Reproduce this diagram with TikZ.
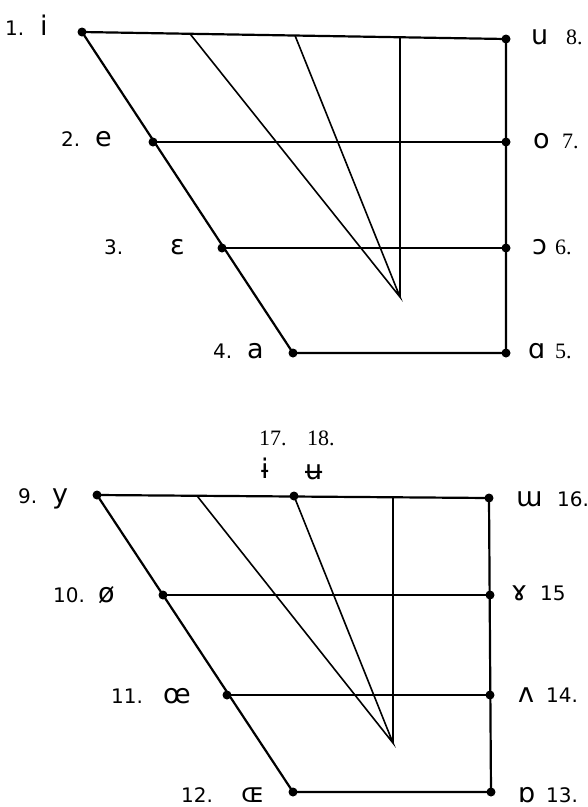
\documentclass[tikz,border=0pt]{standalone}
\usepackage{fontspec}
\setmainfont{DejaVu Sans}
\newfontfamily\ipafont{DejaVu Sans}
\newfontfamily\serfont{Liberation Serif}
\begin{document}
\begin{tikzpicture}[x=1pt,y=-1pt,
  dot/.style={circle,fill=black,inner sep=0pt,minimum size=9pt},
  outer/.style={line width=2.2pt},
  inner/.style={line width=1.6pt},
  num/.style={anchor=base west,inner sep=0pt,font=\fontsize{20}{20}\selectfont},
  snum/.style={anchor=base west,inner sep=0pt,font=\serfont\fontsize{22}{22}\selectfont},
  sym/.style={anchor=base west,inner sep=0pt,font=\ipafont\fontsize{27}{27}\selectfont}]
\useasboundingbox (0,0) rectangle (588,807);
% ---------- top chart ----------
\node[dot] (i) at (82,32) {};
\node[dot] (u) at (506,39) {};
\node[dot] (e) at (153,142) {};
\node[dot] (o) at (506,142) {};
\node[dot] (eps) at (222,248) {};
\node[dot] (oo) at (506,248) {};
\node[dot] (a) at (293,353) {};
\node[dot] (aa) at (506,353) {};
\coordinate (ta) at (190,33.8);
\coordinate (tb) at (295,35.5);
\coordinate (tc) at (400,37.3);
\coordinate (ap) at (400,297);
\draw[outer] (i.center) -- (u.center) -- (aa.center) -- (a.center) -- (i.center);
\draw[outer] (e.center) -- (o.center);
\draw[outer] (eps.center) -- (oo.center);
\draw[inner] (ta) -- (ap) -- (tb);
\draw[inner] (tc) -- (ap);
% labels
\node[num] (l1) at (5,35) {1.};
\node[sym] (s1) at (40,35) {i};
\node[num] (l2) at (61,146) {2.};
\node[sym] (s2) at (95,146) {e};
\node[num] (l3) at (104,254) {3.};
\node[sym] (s3) at (170,254) {ε};
\node[num] (l4) at (213,358) {4.};
\node[sym] (s4) at (247,358) {a};
\node[sym] (s8) at (531,44) {u};
\node[snum] (l8) at (566,44) {8.};
\node[sym] (s7) at (533,148) {o};
\node[snum] (l7) at (562,148) {7.};
\node[sym] (s6) at (532,254) {ɔ};
\node[snum] (l6) at (555,254) {6.};
\node[sym] (s5) at (528,358) {ɑ};
\node[snum] (l5) at (555,358) {5.};
% ---------- bottom chart ----------
\node[dot] (y) at (97,495) {};
\node[dot] (iu) at (294,496) {};
\node[dot] (w) at (489,498) {};
\node[dot] (oe) at (163,595) {};
\node[dot] (gam) at (490,595) {};
\node[dot] (ce) at (227,695) {};
\node[dot] (wedge) at (490,695) {};
\node[dot] (OE) at (293,792) {};
\node[dot] (ao) at (491,792) {};
\coordinate (ba) at (197,495.8);
\coordinate (bc) at (393,497.3);
\coordinate (bp) at (393,743);
\draw[outer] (y.center) -- (w.center) -- (ao.center) -- (OE.center) -- (y.center);
\draw[inner] (oe.center) -- (gam.center);
\draw[inner] (ce.center) -- (wedge.center);
\draw[inner] (ba) -- (bp) -- (iu.center);
\draw[inner] (bc) -- (bp);
% labels
\node[snum] (l17) at (259,445) {17.};
\node[snum] (l18) at (307,445) {18.};
\node[sym] (s17) at (261,478) {ɨ};
\node[sym] (s18) at (305,479) {ʉ};
\node[num] (l9) at (18,503) {9.};
\node[sym] (s9) at (52,503) {y};
\node[num] (l10) at (53,602) {10.};
\node[sym] (s10) at (98,602) {ø};
\node[num] (l11) at (111,703) {11.};
\node[sym] (s11) at (163,703) {œ};
\node[num] (l12) at (181,802) {12.};
\node[sym] (s12) at (241,802) {ɶ};
\node[sym] (s16) at (516,506) {ɯ};
\node[num] (l16) at (557,506) {16.};
\node[sym] (s15) at (511,600) {ɤ};
\node[num] (l15) at (540,600) {15};
\node[sym] (s14) at (518,702) {ʌ};
\node[num] (l14) at (546,702) {14.};
\node[sym] (s13) at (518,802) {ɒ};
\node[num] (l13) at (546,802) {13.};
\end{tikzpicture}
\end{document}
